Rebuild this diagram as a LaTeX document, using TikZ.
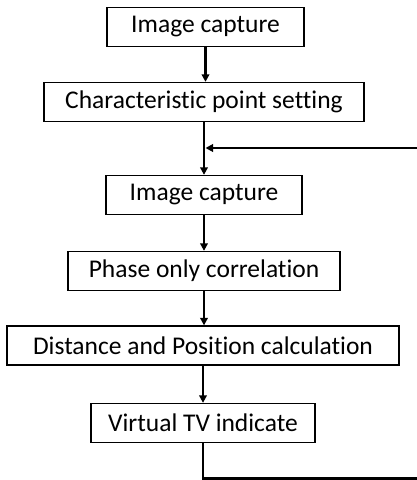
\documentclass[tikz,border=0pt]{standalone}
\usepackage{fontspec}
\setmainfont[Ligatures=NoCommon]{Carlito}
\usetikzlibrary{arrows.meta}

\tikzset{
  box/.style={draw, line width=1.3pt, minimum height=39pt, inner xsep=4pt, font=\fontsize{25.5}{30}\selectfont},
  flow/.style={line width=2.8pt, -{Triangle[length=7.5pt, width=7.5pt]}},
}

\begin{document}
\begin{tikzpicture}[x=1pt, y=-1pt]
\useasboundingbox (0,0) rectangle (417,480);

% Ablauf von oben nach unten
\node[box, minimum width=197pt] (cap1) at (205.5,27)  {Image capture};
\node[box, minimum width=320pt] (cps)  at (204,102)   {Characteristic point setting};
\node[box, minimum width=196pt] (cap2) at (204,195)   {Image capture};
\node[box, minimum width=272pt] (poc)  at (204,271)   {Phase only correlation};
\node[box, minimum width=392pt] (dpc)  at (203,345.5) {Distance and Position calculation};
\node[box, minimum width=224pt] (vti)  at (203,423)   {Virtual TV indicate};

\draw[flow] (cap1.south) -- (cap1.south |- cps.north);
\draw[flow] (cps.south) -- (cap2.north);
\draw[flow] (cap2.south) -- (poc.north);
\draw[flow] (poc.south) -- (poc.south |- dpc.north);
\draw[flow] (dpc.south) -- (dpc.south |- vti.north);

% Rueckfuehrung (rechter Rand abgeschnitten)
\coordinate (down) at (417,478.5);
\coordinate (back) at (417,148);
\coordinate (join) at (205.5,148);
\draw[line width=2.8pt] (vti.south) |- (down);
\draw[flow] (back) -- (join);

\end{tikzpicture}
\end{document}
